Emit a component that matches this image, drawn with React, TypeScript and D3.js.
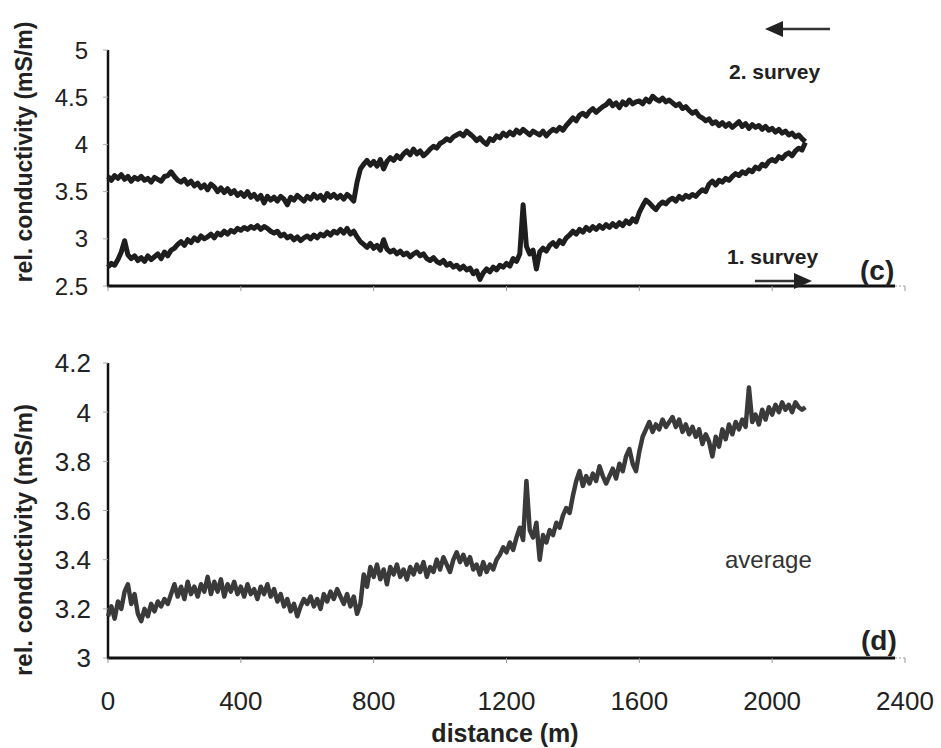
import React from 'react';
import * as d3 from 'd3';

// conductivity profiles, one reading every 10 m from 0 to 2100 m
const STEP = 10;

const survey2 = [
  3.66, 3.62, 3.67, 3.64, 3.68, 3.63, 3.66, 3.61, 3.65, 3.63,
  3.66, 3.62, 3.64, 3.60, 3.65, 3.63, 3.61, 3.66, 3.67, 3.71,
  3.66, 3.62, 3.60, 3.63, 3.58, 3.61, 3.56, 3.59, 3.54, 3.57,
  3.52, 3.58, 3.55, 3.50, 3.54, 3.49, 3.53, 3.48, 3.51, 3.46,
  3.49, 3.45, 3.50, 3.44, 3.47, 3.42, 3.46, 3.38, 3.45, 3.41,
  3.44, 3.40, 3.45, 3.42, 3.36, 3.44, 3.41, 3.46, 3.43, 3.40,
  3.45, 3.42, 3.47, 3.43, 3.46, 3.41, 3.48, 3.44, 3.47, 3.43,
  3.46, 3.42, 3.47, 3.44, 3.40, 3.60, 3.74, 3.79, 3.83, 3.78,
  3.82, 3.77, 3.84, 3.74, 3.82, 3.86, 3.83, 3.88, 3.85, 3.90,
  3.93, 3.89, 3.95, 3.90, 3.93, 3.88, 3.91, 3.95, 3.98, 3.96,
  4.01, 4.03, 4.06, 4.04, 4.08, 4.10, 4.12, 4.09, 4.14, 4.11,
  4.08, 4.04, 4.07, 4.03, 4.00, 4.06, 4.04, 4.09, 4.07, 4.12,
  4.09, 4.13, 4.10, 4.15, 4.12, 4.16, 4.13, 4.10, 4.14, 4.12,
  4.10, 4.14, 4.09, 4.13, 4.16, 4.14, 4.18, 4.15, 4.20, 4.24,
  4.28, 4.25, 4.31, 4.33, 4.30, 4.35, 4.38, 4.34, 4.37, 4.40,
  4.42, 4.46, 4.41, 4.44, 4.39, 4.45, 4.42, 4.47, 4.43, 4.45,
  4.46, 4.43, 4.48, 4.45, 4.51, 4.48, 4.46, 4.49, 4.45, 4.47,
  4.44, 4.41, 4.43, 4.38, 4.40, 4.36, 4.33, 4.35, 4.30, 4.28,
  4.25, 4.27, 4.22, 4.24, 4.20, 4.23, 4.19, 4.22, 4.18, 4.21,
  4.24, 4.19, 4.22, 4.17, 4.21, 4.18, 4.20, 4.16, 4.19, 4.15,
  4.17, 4.13, 4.16, 4.12, 4.14, 4.10, 4.12, 4.08, 4.10, 4.06,
  4.03,
];

const survey1 = [
  2.70, 2.74, 2.72, 2.78, 2.86, 2.98, 2.83, 2.79, 2.82, 2.77,
  2.80, 2.76, 2.82, 2.78, 2.81, 2.84, 2.79, 2.86, 2.82, 2.88,
  2.90, 2.94, 2.97, 2.93, 2.99, 2.96, 3.01, 2.98, 3.03, 3.00,
  3.02, 3.05, 3.01, 3.06, 3.04, 3.08, 3.05, 3.09, 3.07, 3.11,
  3.09, 3.12, 3.10, 3.13, 3.11, 3.14, 3.10, 3.13, 3.11, 3.08,
  3.06, 3.08, 3.03, 3.05, 3.01, 3.03, 2.99, 3.02, 2.98, 3.01,
  3.03, 3.00, 3.04, 3.01, 3.05, 3.03, 3.07, 3.04, 3.08, 3.06,
  3.10, 3.06, 3.11, 3.05, 3.08, 3.02, 2.97, 2.94, 2.91, 2.95,
  2.90, 2.93, 2.88, 2.99, 2.89, 2.86, 2.88, 2.84, 2.87, 2.83,
  2.85, 2.81, 2.84, 2.86, 2.82, 2.84, 2.79, 2.77, 2.80, 2.76,
  2.74, 2.77, 2.72, 2.74, 2.70, 2.72, 2.68, 2.71, 2.67, 2.69,
  2.63, 2.66, 2.57, 2.64, 2.68, 2.65, 2.70, 2.67, 2.72, 2.70,
  2.74, 2.71, 2.79, 2.76, 2.84, 3.36, 2.92, 2.84, 2.88, 2.68,
  2.86, 2.90, 2.87, 2.93, 2.96, 2.92, 2.98, 2.95, 3.01, 3.04,
  3.08, 3.05, 3.10, 3.07, 3.12, 3.09, 3.13, 3.10, 3.14, 3.11,
  3.15, 3.12, 3.16, 3.13, 3.17, 3.14, 3.19, 3.16, 3.21, 3.18,
  3.28, 3.35, 3.41, 3.38, 3.34, 3.31, 3.36, 3.39, 3.37, 3.41,
  3.43, 3.40, 3.45, 3.42, 3.46, 3.44, 3.47, 3.45, 3.49, 3.52,
  3.50, 3.58, 3.61, 3.57, 3.62, 3.60, 3.64, 3.62, 3.66, 3.69,
  3.67, 3.71, 3.69, 3.73, 3.71, 3.76, 3.74, 3.79, 3.77, 3.82,
  3.84, 3.82, 3.87, 3.85, 3.89, 3.91, 3.88, 3.93, 3.96, 3.94,
  4.02,
];

const average = [
  3.17, 3.21, 3.16, 3.23, 3.20, 3.27, 3.30, 3.22, 3.26, 3.18,
  3.15, 3.20, 3.17, 3.22, 3.19, 3.23, 3.21, 3.24, 3.22, 3.26,
  3.30, 3.25, 3.29, 3.24, 3.31, 3.26, 3.29, 3.25, 3.30, 3.27,
  3.33, 3.26, 3.31, 3.27, 3.32, 3.25, 3.30, 3.27, 3.31, 3.26,
  3.29, 3.25, 3.30, 3.26, 3.28, 3.24, 3.29, 3.26, 3.30, 3.25,
  3.28, 3.23, 3.26, 3.21, 3.24, 3.19, 3.22, 3.17, 3.21, 3.24,
  3.22, 3.25, 3.21, 3.24, 3.20, 3.26, 3.23, 3.27, 3.24, 3.28,
  3.25, 3.22, 3.26, 3.21, 3.25, 3.18, 3.22, 3.34, 3.29, 3.37,
  3.33, 3.38, 3.32, 3.36, 3.30, 3.37, 3.34, 3.38, 3.33, 3.36,
  3.32, 3.37, 3.34, 3.38, 3.35, 3.39, 3.33, 3.37, 3.35, 3.40,
  3.36, 3.41, 3.38, 3.35, 3.40, 3.43, 3.39, 3.42, 3.38, 3.41,
  3.36, 3.38, 3.34, 3.39, 3.35, 3.38, 3.36, 3.40, 3.42, 3.45,
  3.43, 3.47, 3.44, 3.49, 3.53, 3.48, 3.72, 3.52, 3.49, 3.55,
  3.40, 3.50, 3.47, 3.52, 3.50, 3.55, 3.53, 3.58, 3.61, 3.59,
  3.66, 3.72, 3.76, 3.70, 3.74, 3.71, 3.75, 3.72, 3.78, 3.74,
  3.71, 3.74, 3.77, 3.73, 3.79, 3.76, 3.82, 3.85, 3.79, 3.76,
  3.84, 3.90, 3.93, 3.96, 3.92, 3.95, 3.93, 3.97, 3.94, 3.96,
  3.98, 3.94, 3.97, 3.92, 3.95, 3.91, 3.94, 3.90, 3.93, 3.87,
  3.91, 3.88, 3.82, 3.90, 3.86, 3.93, 3.89, 3.95, 3.91, 3.96,
  3.93, 3.97, 3.94, 4.10, 3.96, 3.99, 3.95, 4.01, 3.97, 4.02,
  3.99, 4.03, 4.00, 4.04, 4.01, 4.03, 4.00, 4.04, 4.02, 4.01,
  4.02,
];

const xTicks = [0, 400, 800, 1200, 1600, 2000, 2400];
const yTicksTop = [2.5, 3, 3.5, 4, 4.5, 5];
const yTicksBottom = [3, 3.2, 3.4, 3.6, 3.8, 4, 4.2];

const W = 941;
const H = 748;
const FONT = 'Liberation Sans, Arial, sans-serif';

const x = d3.scaleLinear().domain([0, 2400]).range([108, 905]);
const yTop = d3.scaleLinear().domain([2.5, 5]).range([286, 50]);
const yBot = d3.scaleLinear().domain([3, 4.2]).range([658, 363]);

function linePath(values: number[], y: d3.ScaleLinear<number, number>) {
  const line = d3.line<number>()
    .x((_, i) => x(i * STEP))
    .y(d => y(d));
  return line(values) || '';
}

function YAxis({ y, ticks, fontSize, labelX }: any) {
  const [r0, r1] = y.range();
  return (
    <g>
      <line x1={x(0)} x2={x(0)} y1={r0 + 1} y2={r1} stroke="#111" strokeWidth={2.5} />
      {ticks.map((t: number) => (
        <g key={t}>
          <line x1={x(0) - 5} x2={x(0)} y1={y(t)} y2={y(t)} stroke="#aaa" strokeWidth={1} />
          <text x={labelX} y={y(t)} dy="0.36em" textAnchor="end" fontSize={fontSize}
            fontFamily={FONT} fill="#222">{String(t)}</text>
        </g>
      ))}
    </g>
  );
}

function XAxis({ yPos, labels }: any) {
  return (
    <g>
      <line x1={x(0) - 1} x2={x(2400) - 10} y1={yPos} y2={yPos} stroke="#111" strokeWidth={3} />
      <line x1={x(2400) - 10} x2={x(2400)} y1={yPos} y2={yPos} stroke="#999" strokeWidth={1}
        strokeDasharray="2,2" />
      {xTicks.map(t => (
        <g key={t}>
          <line x1={x(t)} x2={x(t)} y1={yPos} y2={yPos + 5} stroke="#999" strokeWidth={1} />
          {labels && (
            <text x={x(t)} y={yPos + 52} textAnchor="middle" fontSize={26}
              fontFamily={FONT} fill="#222">{String(t)}</text>
          )}
        </g>
      ))}
    </g>
  );
}

function Arrow({ x1, x2, yPos }: any) {
  const dir = x2 > x1 ? 1 : -1;
  const head = 18;
  return (
    <g>
      <line x1={x1} x2={x2 - dir * head} y1={yPos} y2={yPos} stroke="#333" strokeWidth={2.5} />
      <path d={`M${x2},${yPos} L${x2 - dir * head},${yPos - 8} L${x2 - dir * head},${yPos + 8} Z`}
        fill="#222" />
    </g>
  );
}

export default function App() {
  return (
    <svg width={W} height={H} style={{ position: 'absolute', left: 0, top: 0, background: '#fff' }}>
      {/* panel (c) */}
      <YAxis y={yTop} ticks={yTicksTop} fontSize={24} labelX={88} />
      <XAxis yPos={286} labels={false} />
      <path d={linePath(survey2, yTop)} fill="none" stroke="#1e1e1e" strokeWidth={5}
        strokeLinejoin="round" />
      <path d={linePath(survey1, yTop)} fill="none" stroke="#1e1e1e" strokeWidth={5}
        strokeLinejoin="round" />
      <text transform="translate(32,152) rotate(-90)" textAnchor="middle" fontSize={23}
        fontWeight="bold" fontFamily={FONT} fill="#222">rel. conductivity (mS/m)</text>
      <Arrow x1={830} x2={765} yPos={29} />
      <text x={729} y={79} fontSize={21} fontWeight="bold" fontFamily={FONT} fill="#222">2. survey</text>
      <text x={727} y={264} fontSize={21} fontWeight="bold" fontFamily={FONT} fill="#222">1. survey</text>
      <Arrow x1={755} x2={812} yPos={281} />
      <text x={860} y={280} fontSize={28} fontWeight="bold" fontFamily={FONT} fill="#222">(c)</text>

      {/* panel (d) */}
      <YAxis y={yBot} ticks={yTicksBottom} fontSize={26} labelX={91} />
      <XAxis yPos={658} labels={true} />
      <path d={linePath(average, yBot)} fill="none" stroke="#3a3a3a" strokeWidth={4.5}
        strokeLinejoin="round" />
      <text transform="translate(32,540) rotate(-90)" textAnchor="middle" fontSize={24}
        fontWeight="bold" fontFamily={FONT} fill="#222">rel. conductivity (mS/m)</text>
      <text x={725} y={568} fontSize={24} fontFamily={FONT} fill="#333">average</text>
      <text x={861} y={650} fontSize={28} fontWeight="bold" fontFamily={FONT} fill="#222">(d)</text>
      <text x={505} y={742} textAnchor="middle" fontSize={25} fontWeight="bold"
        fontFamily={FONT} fill="#222">distance (m)</text>
    </svg>
  );
}
